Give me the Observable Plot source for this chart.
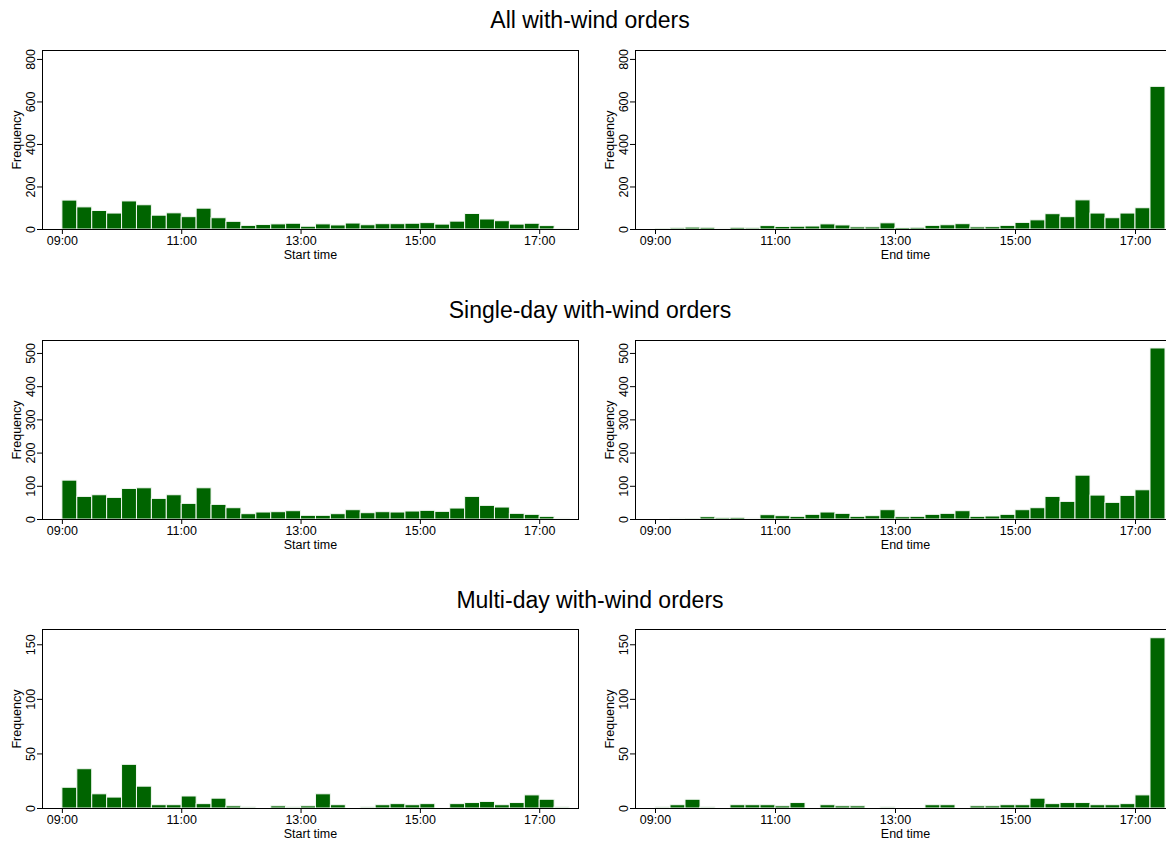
<!DOCTYPE html>
<html><head><meta charset="utf-8">
<script src="https://cdn.jsdelivr.net/npm/d3@7"></script>
<script src="https://cdn.jsdelivr.net/npm/@observablehq/plot@0.6"></script>
<style>
html,body{margin:0;padding:0;background:#fff;overflow:hidden;}
#root{position:relative;width:1166px;height:844px;overflow:hidden;font-family:"Liberation Sans",Arial,Helvetica,sans-serif;color:#000;}
.title{position:absolute;left:0;width:1180px;text-align:center;font-size:23px;line-height:24px;}
.panel{position:absolute;width:590px;height:229px;}
.panel svg{max-width:none !important;}
</style></head><body><div id="root"></div>
<script>
// 15-minute bins (start of each bin)
const binStarts = ["09:00","09:15","09:30","09:45","10:00","10:15","10:30","10:45",
  "11:00","11:15","11:30","11:45","12:00","12:15","12:30","12:45",
  "13:00","13:15","13:30","13:45","14:00","14:15","14:30","14:45",
  "15:00","15:15","15:30","15:45","16:00","16:15","16:30","16:45",
  "17:00","17:15"];
const binWidthMinutes = 15;
const xTickLabels = ["09:00","11:00","13:00","15:00","17:00"];

// Frequencies
const allStart    = [136,104,87,75,132,114,65,76,58,98,53,36,17,21,24,27,13,24,19,28,20,25,25,27,30,23,37,73,47,39,23,27,16,4];
const allEnd      = [1,6,9,8,4,8,6,16,12,13,14,24,19,10,10,29,7,8,17,20,25,10,11,17,31,43,72,58,137,75,53,75,100,671];
const singleStart = [117,68,73,65,92,94,62,73,47,94,44,34,16,21,22,25,11,11,16,28,19,22,21,24,26,23,33,68,41,36,17,14,8,3];
const singleEnd   = [0,3,1,7,4,5,3,13,10,8,14,21,17,8,10,28,7,8,14,17,25,8,9,14,28,34,68,53,132,72,50,71,88,515];
const multiStart  = [19,36,13,10,40,20,3,3,11,4,9,2,1,0,2,1,2,13,3,0,1,3,4,3,4,0,4,5,6,3,5,12,8,1];
const multiEnd    = [1,3,8,1,0,3,3,3,2,5,0,3,2,2,0,1,0,0,3,3,0,2,2,3,3,9,4,5,5,3,3,4,12,156];

const rowTitles = ["All with-wind orders","Single-day with-wind orders","Multi-day with-wind orders"];
const yTicksRows = [[0,200,400,600,800],[0,100,200,300,400,500],[0,50,100,150]];
const yMaxRows = [842,539,164];

const toH = s => { const [h,m] = s.split(":").map(Number); return h + m/60; };
const fmtH = v => { const h = Math.floor(v+1e-9), m = Math.round((v-h)*60); return String(h).padStart(2,"0")+":"+String(m).padStart(2,"0"); };

const root = document.getElementById("root");
const FONT = '"Liberation Sans",Arial,Helvetica,sans-serif';

function panel(counts, row, isEnd) {
  const data = binStarts.map((s,i)=>({x1: toH(s), x2: toH(s) + binWidthMinutes/60, n: counts[i]}));
  const W = 590, H = 229, mL = 42, mT = 10, mB = 40;
  const frameW = isEnd ? 540 : 536;
  const xdom = isEnd ? [8 + 40/60, 17 + 40/60] : [8 + 40/60, 17.65];
  const svg = Plot.plot({
    width: W, height: H,
    marginLeft: mL, marginRight: W - mL - frameW, marginTop: mT, marginBottom: mB,
    x: {domain: xdom},
    y: {domain: [0, yMaxRows[row]]},
    style: {fontFamily: FONT, fontSize: "12.5px", color: "#000", background: "transparent", overflow: "visible", maxWidth: "none"},
    marks: [
      Plot.rectY(data, {x1: "x1", x2: "x2", y: "n", fill: "#006400", stroke: "#f4f8f4", strokeWidth: 1}),
      Plot.frame({stroke: "#000", strokeWidth: 1}),
      Plot.axisX({ticks: xTickLabels.map(toH), tickFormat: fmtH, tickSize: 5, tickPadding: 2,
        label: isEnd ? "End time" : "Start time", labelAnchor: "center", labelOffset: 29, labelArrow: "none"}),
      Plot.axisY({ticks: yTicksRows[row], tickSize: 5, tickPadding: 3, tickRotate: -90,
        label: "Frequency", labelAnchor: "center", labelOffset: 30, labelArrow: "none"})
    ]
  });
  svg.style.maxWidth = "none";
  svg.setAttribute("width", W);
  svg.setAttribute("height", H);
  const wrap = document.createElement("div");
  wrap.className = "panel";
  wrap.style.left = (isEnd ? 593 : 0) + "px";
  wrap.style.top = (40 + row*289.5) + "px";
  wrap.appendChild(svg);
  root.appendChild(wrap);
}

rowTitles.forEach((t,row)=>{
  const d = document.createElement("div");
  d.className = "title";
  d.textContent = t;
  d.style.top = (8 + row*290) + "px";
  root.appendChild(d);
});

panel(allStart, 0, false);
panel(allEnd, 0, true);
panel(singleStart, 1, false);
panel(singleEnd, 1, true);
panel(multiStart, 2, false);
panel(multiEnd, 2, true);
</script>
</body></html>
